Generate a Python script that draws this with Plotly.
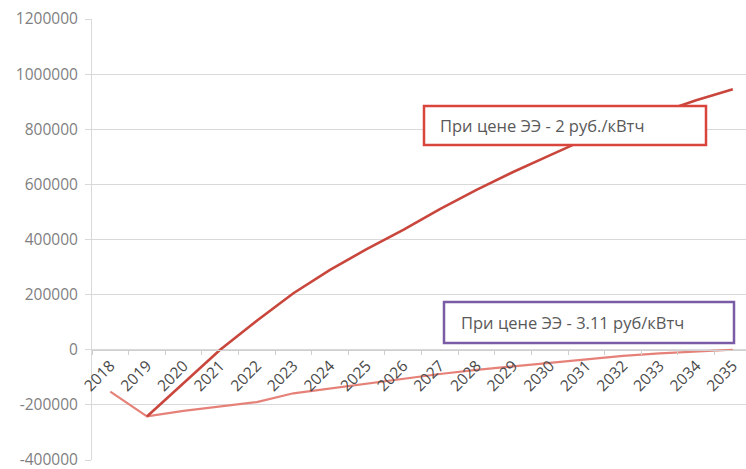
import plotly.graph_objects as go

years = [str(y) for y in range(2018, 2036)]
price_2 = [None, -242000, -122000, 0, 105000, 205000, 290000, 365000, 435000,
           510000, 580000, 645000, 705000, 765000, 815000, 860000, 905000, 945000]
price_311 = [-152000, -242000, -222000, -205000, -190000, -158000, -140000, -122000,
             -105000, -88000, -73000, -60000, -46000, -33000, -22000, -13000, -6000, 0]
label_2 = "При цене ЭЭ - 2 руб./кВтч"
label_311 = "При цене ЭЭ - 3.11 руб/кВтч"
y_ticks = list(range(-400000, 1200001, 200000))
y_ticktext = [str(v) for v in y_ticks]

fig = go.Figure()
fig.add_trace(go.Scatter(x=years, y=price_311, mode="lines",
                         line=dict(color="#e58178", width=2.2), showlegend=False))
fig.add_trace(go.Scatter(x=years, y=price_2, mode="lines",
                         line=dict(color="#c9463d", width=2.6), showlegend=False))

W, H = 746, 469
ml, mr, mt, mb = 92, 0, 19, 9
pw, ph = W - ml - mr, H - mt - mb

def px(x):
    return (x - ml) / pw

def py(y):
    return (H - mb - y) / ph

boxes = [
    (424, 106, 706, 145, "#d9453c", label_2, 438),
    (444, 302, 734, 343, "#7a5ca6", label_311, 459),
]
for x0, y0, x1, y1, col, txt, tx in boxes:
    fig.add_shape(type="rect", xref="paper", yref="paper",
                  x0=px(x0), x1=px(x1), y0=py(y1), y1=py(y0),
                  line=dict(color=col, width=2.5), fillcolor="white", layer="above")
    fig.add_annotation(xref="paper", yref="paper", x=px(tx), y=py((y0 + y1) / 2),
                       xanchor="left", yanchor="middle", showarrow=False, text=txt,
                       font=dict(family="Open Sans", size=16.5, color="#595959"))

fig.update_layout(
    width=W, height=H,
    margin=dict(l=ml, r=mr, t=mt, b=mb, autoexpand=False),
    paper_bgcolor="white", plot_bgcolor="white",
    font=dict(family="Open Sans", size=15, color="#7f7f7f"),
    xaxis=dict(type="category", anchor="free", position=0.25,
               tickangle=-45, tickson="boundaries", ticks="outside", ticklen=4,
               tickcolor="#cfcfcf", showline=True, linecolor="#cfcfcf", linewidth=1,
               showgrid=False, zeroline=False, automargin=False,
               ticklabeloverflow="allow",
               tickfont=dict(family="Open Sans", size=15.5, color="#4a4a4a"),
               range=[-0.5, 17.36]),
    yaxis=dict(range=[-400000, 1200000], tickvals=y_ticks, ticktext=y_ticktext,
               showgrid=True, gridcolor="#d9d9d9", gridwidth=1,
               zeroline=False, showline=True, linecolor="#d9d9d9",
               ticks="outside", ticklen=6, tickcolor="#d9d9d9", automargin=False,
               ticklabeloverflow="allow", ticklabelstandoff=4,
               tickfont=dict(family="Open Sans", size=15.5, color="#7f7f7f")),
)

fig.write_html("out.html")
